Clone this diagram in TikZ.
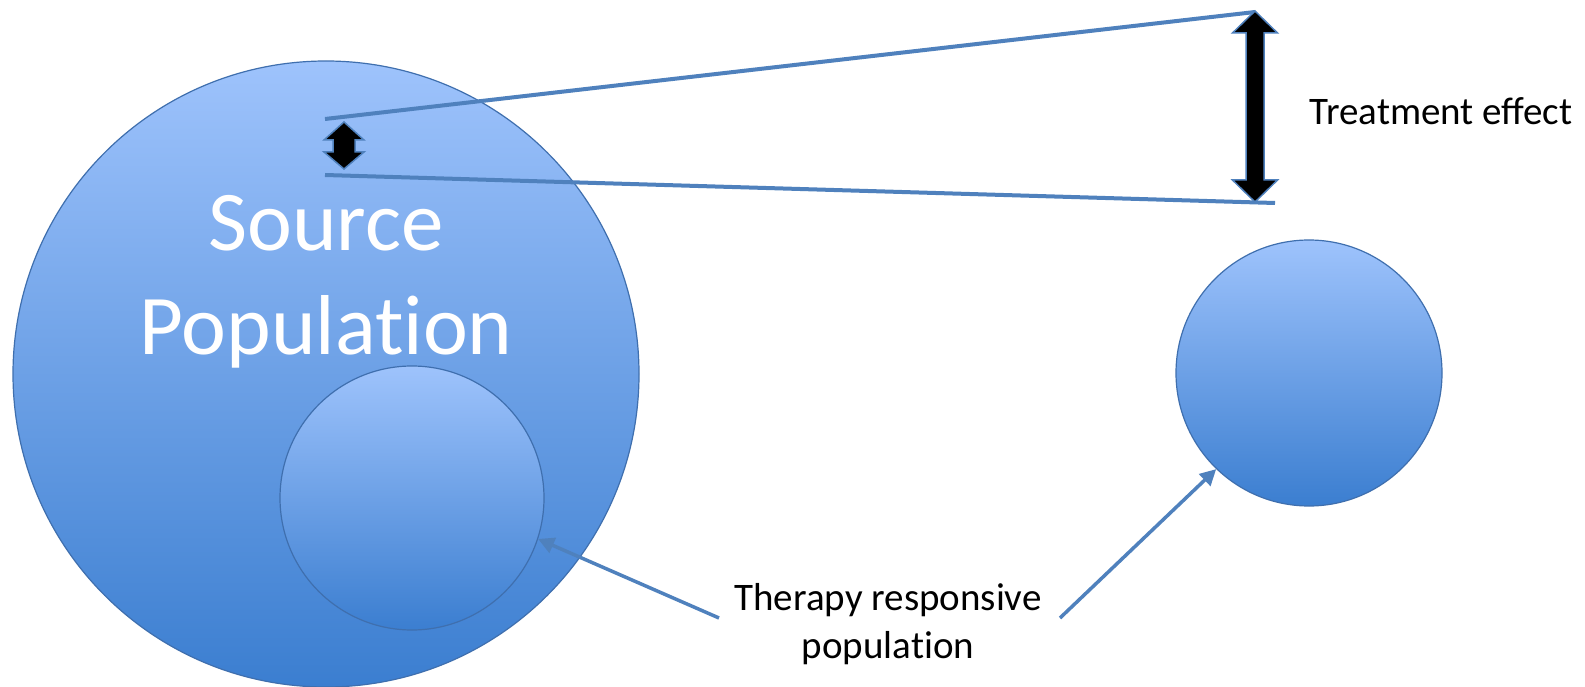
\documentclass[tikz,border=0pt]{standalone}
\usepackage{fontspec}
\setmainfont{Carlito}
\usetikzlibrary{arrows.meta}
\definecolor{ctop}{HTML}{9EC3FC}
\definecolor{cbot}{HTML}{3B7ED0}
\definecolor{edge}{HTML}{3F6FAE}
\definecolor{lineblue}{HTML}{4F81BD}
\tikzset{
  popcircle/.style={circle, draw=edge, line width=1.2pt, top color=ctop, bottom color=cbot, inner sep=0pt},
  bline/.style={draw=lineblue, line width=4pt},
  barrow/.style={draw=lineblue, line width=3.5pt, -{Triangle[length=16pt,width=16pt]}},
  dblarrow/.style={fill=black, draw=lineblue, line width=1.5pt, line join=miter},
  lbl/.style={font=\fontsize{39}{48}\selectfont, align=center, inner sep=0pt}
}
\begin{document}
\begin{tikzpicture}[x=1pt,y=-1pt]
\useasboundingbox (0,0) rectangle (1585,687);
\fill[white] (0,0) rectangle (1585,687);
\node[popcircle, minimum size=626pt] (big) at (326,374) {};
\node[popcircle, minimum size=264pt] (inner) at (412,498) {};
\node[popcircle, minimum size=266pt] (right) at (1309,373) {};
\node[font=\fontsize{85}{104}\selectfont, text=white, align=center, inner sep=0pt] (src) at (326,282) {Source\\Populat\kern0pt ion};
% lines
\coordinate (l1a) at (325,119);
\coordinate (l1b) at (1255,12);
\coordinate (l2a) at (325,175);
\coordinate (l2b) at (1275,203);
\draw[bline] (l1a) -- (l1b);
\draw[bline] (l2a) -- (l2b);
% small double arrow
\path[dblarrow] (344,122) -- (364,140) -- (355,140) -- (355,152) -- (364,152) -- (344,169) -- (324,152) -- (333,152) -- (333,140) -- (324,140) -- cycle;
% big double arrow
\path[dblarrow] (1255,11) -- (1277.5,33) -- (1264,33) -- (1264,180) -- (1277.5,180) -- (1255,202) -- (1232.5,180) -- (1246,180) -- (1246,33) -- (1232.5,33) -- cycle;
% labels
\node[lbl] (te) at (1441,111) {Treatment effect};
\node[lbl] (trp) at (888,624) {Therapy responsive\\populat\kern0pt ion};
% connectors
\coordinate (t1) at (719,618);
\coordinate (t2) at (1060,618);
\draw[barrow] (t1) -- (inner.-18);
\draw[barrow] (t2) -- (right.-134);
\end{tikzpicture}
\end{document}
